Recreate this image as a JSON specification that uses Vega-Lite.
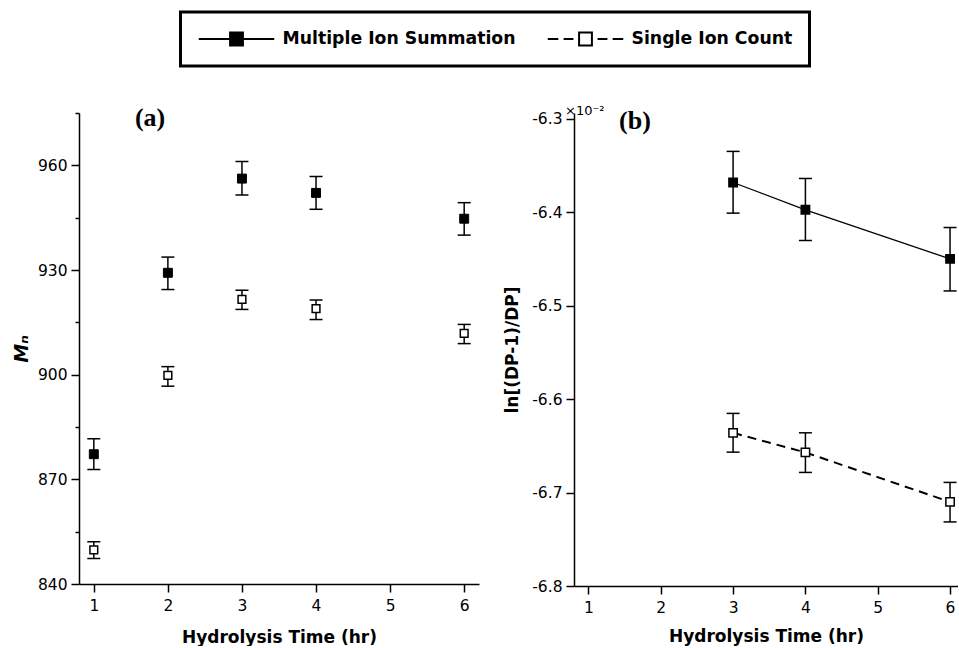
{
  "$schema": "https://vega.github.io/schema/vega-lite/v6.json",
  "background": "white",
  "padding": {"left": 12, "top": 10, "right": 0, "bottom": 0},
  "config": {
    "font": "DejaVu Sans",
    "view": {"stroke": null},
    "axis": {
      "grid": false,
      "domainColor": "black",
      "domainWidth": 1.5,
      "tickColor": "black",
      "tickWidth": 1.5,
      "tickSize": 8,
      "labelFont": "DejaVu Sans",
      "labelFontSize": 15.5,
      "labelColor": "black",
      "labelPadding": 4,
      "titleFont": "DejaVu Sans",
      "titleFontWeight": "bold",
      "titleFontSize": 17,
      "titleColor": "black"
    }
  },
  "datasets": {
    "a": [
      {"series": "Multiple Ion Summation", "time": 1, "value": 877.2, "lo": 872.8, "hi": 881.6},
      {"series": "Multiple Ion Summation", "time": 2, "value": 929.2, "lo": 924.4, "hi": 933.7},
      {"series": "Multiple Ion Summation", "time": 3, "value": 956.2, "lo": 951.5, "hi": 961.1},
      {"series": "Multiple Ion Summation", "time": 4, "value": 952.1, "lo": 947.4, "hi": 956.8},
      {"series": "Multiple Ion Summation", "time": 6, "value": 944.7, "lo": 940.0, "hi": 949.3},
      {"series": "Single Ion Count", "time": 1, "value": 849.8, "lo": 847.3, "hi": 852.1},
      {"series": "Single Ion Count", "time": 2, "value": 899.8, "lo": 896.7, "hi": 902.3},
      {"series": "Single Ion Count", "time": 3, "value": 921.6, "lo": 918.7, "hi": 924.2},
      {"series": "Single Ion Count", "time": 4, "value": 918.9, "lo": 915.8, "hi": 921.4},
      {"series": "Single Ion Count", "time": 6, "value": 911.8, "lo": 908.9, "hi": 914.4}
    ],
    "b": [
      {"series": "Multiple Ion Summation", "time": 3, "value": -6.368, "lo": -6.4008, "hi": -6.3347},
      {"series": "Multiple Ion Summation", "time": 4, "value": -6.3972, "lo": -6.4301, "hi": -6.3637},
      {"series": "Multiple Ion Summation", "time": 6, "value": -6.4498, "lo": -6.4841, "hi": -6.4162},
      {"series": "Single Ion Count", "time": 3, "value": -6.636, "lo": -6.6567, "hi": -6.6152},
      {"series": "Single Ion Count", "time": 4, "value": -6.657, "lo": -6.6784, "hi": -6.636},
      {"series": "Single Ion Count", "time": 6, "value": -6.71, "lo": -6.7314, "hi": -6.6891}
    ]
  },
  "bounds": "flush",
  "spacing": 95,
  "hconcat": [
    {
      "width": 400,
      "height": 471,
      "data": {"name": "a"},
      "layer": [
        {
          "mark": {"type": "rule", "color": "black", "strokeWidth": 1.5},
          "encoding": {
            "x": {"field": "time", "type": "quantitative",
                  "scale": {"domain": [0.8, 6.2], "nice": false, "zero": false},
                  "axis": {"title": "Hydrolysis Time (hr)", "values": [1, 2, 3, 4, 5, 6], "format": "d", "titlePadding": 16, "labelPadding": 6}},
            "y": {"field": "lo", "type": "quantitative",
                  "scale": {"domain": [840, 975], "nice": false, "zero": false},
                  "axis": {"title": "Mₙ", "titleFontStyle": "italic", "titleFontSize": 19, "titlePadding": 6,
                           "values": [840, 855, 870, 885, 900, 915, 930, 945, 960, 975],
                           "labelExpr": "datum.value % 30 === 0 ? datum.label : ''",
                           "tickSize": {"condition": {"test": "datum.value % 30 === 0", "value": 8}, "value": 4}}},
            "y2": {"field": "hi"}
          }
        },
        {
          "mark": {"type": "tick", "orient": "horizontal", "size": 13, "thickness": 1.5, "color": "black", "opacity": 1},
          "encoding": {"x": {"field": "time", "type": "quantitative"}, "y": {"field": "lo", "type": "quantitative"}}
        },
        {
          "mark": {"type": "tick", "orient": "horizontal", "size": 13, "thickness": 1.5, "color": "black", "opacity": 1},
          "encoding": {"x": {"field": "time", "type": "quantitative"}, "y": {"field": "hi", "type": "quantitative"}}
        },
        {
          "transform": [{"filter": "datum.series === 'Multiple Ion Summation'"}],
          "mark": {"type": "point", "shape": "square", "filled": true, "fill": "black", "stroke": "black", "strokeWidth": 1, "size": 80, "opacity": 1},
          "encoding": {"x": {"field": "time", "type": "quantitative"}, "y": {"field": "value", "type": "quantitative"}}
        },
        {
          "transform": [{"filter": "datum.series === 'Single Ion Count'"}],
          "mark": {"type": "point", "shape": "square", "filled": true, "fill": "white", "stroke": "black", "strokeWidth": 1.5, "size": 60, "opacity": 1},
          "encoding": {"x": {"field": "time", "type": "quantitative"}, "y": {"field": "value", "type": "quantitative"}}
        },
        {
          "data": {"values": [{}]},
          "mark": {"type": "text", "text": "(a)", "font": "Liberation Serif", "fontWeight": "bold", "fontSize": 26, "color": "black", "baseline": "middle", "align": "center"},
          "encoding": {"x": {"datum": 1.76, "type": "quantitative"}, "y": {"datum": 973.5, "type": "quantitative"}}
        }
      ]
    },
    {
      "width": 384,
      "height": 473,
      "data": {"name": "b"},
      "layer": [
        {
          "transform": [{"filter": "datum.series === 'Multiple Ion Summation'"}],
          "mark": {"type": "line", "color": "black", "strokeWidth": 1.3},
          "encoding": {
            "x": {"field": "time", "type": "quantitative",
                  "scale": {"domain": [0.8, 6.11], "nice": false, "zero": false},
                  "axis": {"title": "Hydrolysis Time (hr)", "values": [1, 2, 3, 4, 5, 6], "format": "d", "titlePadding": 13, "labelPadding": 6}},
            "y": {"field": "value", "type": "quantitative",
                  "scale": {"domain": [-6.8, -6.2936], "nice": false, "zero": false},
                  "axis": {"title": "ln[(DP-1)/DP]", "titlePadding": 10,
                           "values": [-6.8, -6.7, -6.6, -6.5, -6.4, -6.3],
                           "labelExpr": "'-' + format(abs(datum.value), '.1f')"}}
          }
        },
        {
          "transform": [{"filter": "datum.series === 'Single Ion Count'"}],
          "mark": {"type": "line", "color": "black", "strokeWidth": 2, "strokeDash": [9, 6]},
          "encoding": {"x": {"field": "time", "type": "quantitative"}, "y": {"field": "value", "type": "quantitative"}}
        },
        {
          "mark": {"type": "rule", "color": "black", "strokeWidth": 1.5},
          "encoding": {"x": {"field": "time", "type": "quantitative"}, "y": {"field": "lo", "type": "quantitative"}, "y2": {"field": "hi"}}
        },
        {
          "mark": {"type": "tick", "orient": "horizontal", "size": 13, "thickness": 1.5, "color": "black", "opacity": 1},
          "encoding": {"x": {"field": "time", "type": "quantitative"}, "y": {"field": "lo", "type": "quantitative"}}
        },
        {
          "mark": {"type": "tick", "orient": "horizontal", "size": 13, "thickness": 1.5, "color": "black", "opacity": 1},
          "encoding": {"x": {"field": "time", "type": "quantitative"}, "y": {"field": "hi", "type": "quantitative"}}
        },
        {
          "mark": {"type": "point", "shape": "square", "filled": true, "stroke": "black", "strokeWidth": 1.5, "size": 70, "opacity": 1},
          "encoding": {
            "x": {"field": "time", "type": "quantitative"},
            "y": {"field": "value", "type": "quantitative"},
            "fill": {"field": "series", "type": "nominal",
                     "scale": {"domain": ["Multiple Ion Summation", "Single Ion Count"], "range": ["black", "white"]},
                     "legend": {
                       "title": null,
                       "orient": "none",
                       "legendX": 101.5,
                       "legendY": -101,
                       "direction": "horizontal",
                       "symbolSize": 5700,
                       "clipHeight": 20,
                       "symbolStrokeColor": "black",
                       "symbolStrokeWidth": 2,
                       "symbolOpacity": 1,
                       "labelFont": "DejaVu Sans",
                       "labelFontWeight": "bold",
                       "labelFontSize": 17.3,
                       "labelColor": "black",
                       "labelLimit": 400,
                       "labelOffset": 7,
                       "columnPadding": 30,
                       "padding": 17,
                       "strokeColor": "black",
                       "cornerRadius": 0,
                       "encode": {
                         "symbols": {"update": {"shape": {"signal": "datum.value === 'Multiple Ion Summation' ? 'M-1,0H-0.17M0.17,0H1M-0.17,-0.17H0.17V0.17H-0.17Z' : 'M-1,0H-0.72M-0.58,0H-0.32M0.32,0H0.58M0.72,0H1M-0.17,-0.17H0.17V0.17H-0.17Z'"}, "stroke": {"value": "black"}, "strokeWidth": {"value": 2}}},
                         "legend": {"update": {"strokeWidth": {"value": 3}}}
                       }
                     }}
          }
        },
        {
          "data": {"values": [{}]},
          "mark": {"type": "text", "text": "(b)", "font": "Liberation Serif", "fontWeight": "bold", "fontSize": 26, "color": "black", "baseline": "middle", "align": "center"},
          "encoding": {"x": {"datum": 1.643, "type": "quantitative"}, "y": {"datum": -6.3018, "type": "quantitative"}}
        },
        {
          "data": {"values": [{}]},
          "mark": {"type": "text", "text": "×10⁻²", "font": "DejaVu Sans", "fontSize": 13, "color": "black", "baseline": "alphabetic", "align": "left", "dx": -9, "dy": -4},
          "encoding": {"x": {"datum": 0.8, "type": "quantitative"}, "y": {"datum": -6.3, "type": "quantitative"}}
        }
      ]
    }
  ]
}
